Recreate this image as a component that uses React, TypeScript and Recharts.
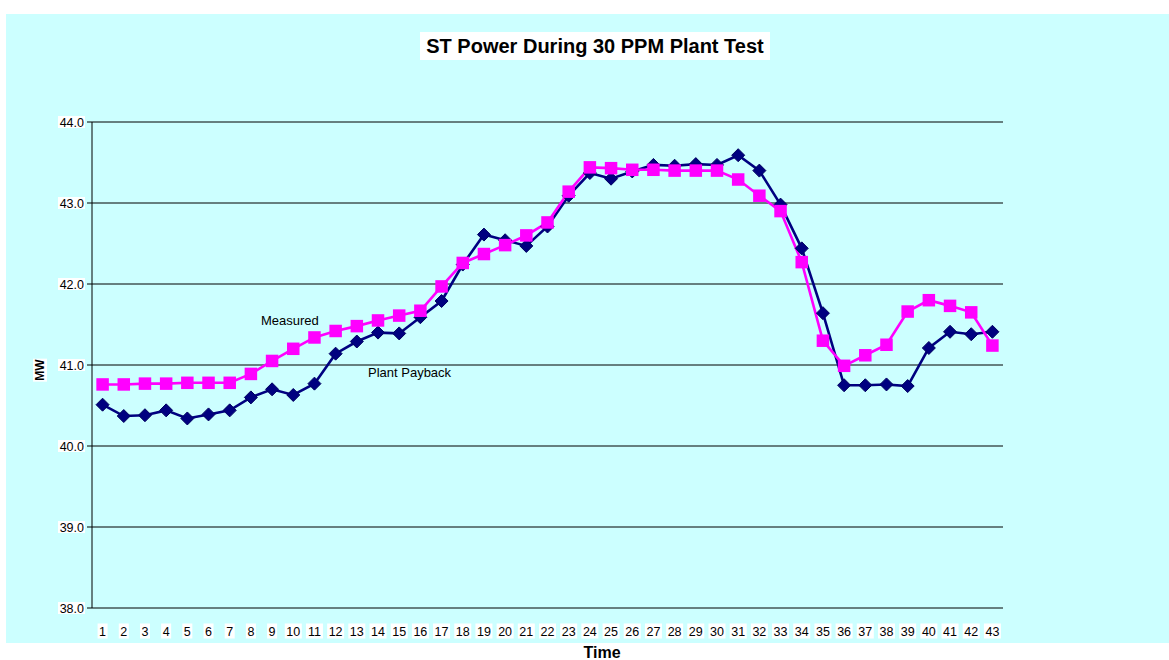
import React from 'react';
import { LineChart, Line, XAxis, YAxis, CartesianGrid } from 'recharts';

const times = [
  1, 2, 3, 4, 5, 6, 7, 8, 9, 10, 11, 12, 13, 14, 15, 16, 17, 18, 19, 20, 21, 22,
  23, 24, 25, 26, 27, 28, 29, 30, 31, 32, 33, 34, 35, 36, 37, 38, 39, 40, 41, 42, 43,
];

const measured = [
  40.76, 40.76, 40.77, 40.77, 40.78, 40.78, 40.78, 40.89, 41.05, 41.2, 41.34, 41.42,
  41.48, 41.55, 41.61, 41.67, 41.97, 42.26, 42.37, 42.48, 42.6, 42.76, 43.14, 43.44,
  43.43, 43.41, 43.41, 43.4, 43.4, 43.4, 43.29, 43.09, 42.9, 42.27, 41.3, 40.99,
  41.12, 41.25, 41.66, 41.8, 41.73, 41.65, 41.24,
];

const plantPayback = [
  40.51, 40.37, 40.38, 40.44, 40.34, 40.39, 40.44, 40.6, 40.7, 40.63, 40.77, 41.14,
  41.29, 41.4, 41.39, 41.59, 41.79, 42.24, 42.61, 42.54, 42.47, 42.71, 43.09, 43.37,
  43.3, 43.39, 43.47, 43.46, 43.48, 43.47, 43.59, 43.4, 42.98, 42.44, 41.64, 40.75,
  40.75, 40.76, 40.74, 41.21, 41.41, 41.38, 41.41,
];

const yTicks = [38, 39, 40, 41, 42, 43, 44];
// tick marks sit between categories, like Excel
const boundaryTicks = [0.5, ...times.map(t => t + 0.5)];

const data = times.map((t, i) => ({ t, measured: measured[i], payback: plantPayback[i] }));

const NAVY = '#000080';
const MAGENTA = '#FF00FF';
const FONT = 'Arial, "Liberation Sans", sans-serif';

function Diamond(props: any) {
  const { cx, cy } = props;
  if (cx == null || cy == null) return <g />;
  const r = 6.5;
  return (
    <path
      d={`M${cx},${cy - r}L${cx + r},${cy}L${cx},${cy + r}L${cx - r},${cy}Z`}
      fill={NAVY}
      stroke="#000060"
      strokeWidth={1}
    />
  );
}

function Square(props: any) {
  const { cx, cy } = props;
  if (cx == null || cy == null) return <g />;
  const s = 12.5;
  return <rect x={cx - s / 2} y={cy - s / 2} width={s} height={s} fill={MAGENTA} />;
}

function XTick(props: any) {
  const { x, y, payload } = props;
  const label = String(payload.value);
  const w = label.length * 7 + 3;
  const cy = y + 23;
  return (
    <g>
      <rect x={x - w / 2} y={cy - 7.5} width={w} height={15} fill="#fff" />
      <text x={x} y={cy} dy="0.36em" textAnchor="middle" fontSize={12.5} fontFamily={FONT} fill="#000">
        {label}
      </text>
    </g>
  );
}

function YTick(props: any) {
  const { x, y, payload } = props;
  const label = Number(payload.value).toFixed(1);
  const w = 26;
  return (
    <g>
      <rect x={x - w} y={y - 6} width={w + 1} height={12} fill="#fff" />
      <text x={x} y={y} dy="0.36em" textAnchor="end" fontSize={12.5} fontFamily={FONT} fill="#000">
        {label}
      </text>
    </g>
  );
}

export default function App() {
  return (
    <div style={{ position: 'absolute', left: 0, top: 0, width: 1169, height: 660, background: '#fff', fontFamily: FONT }}>
      <div style={{ position: 'absolute', left: 6, top: 14, width: 1163, height: 629, background: '#CCFFFF' }} />
      <div
        style={{
          position: 'absolute', left: 420, top: 32, width: 350, height: 28, background: '#fff',
          fontWeight: 'bold', fontSize: 20, lineHeight: '28px', textAlign: 'center', whiteSpace: 'nowrap', color: '#000',
        }}
      >
        ST Power During 30 PPM Plant Test
      </div>
      <div style={{ position: 'absolute', left: 0, top: 0 }}>
        <LineChart width={1169} height={660} data={data} margin={{ top: 122, right: 166, bottom: 0, left: 0 }}>
          <CartesianGrid horizontal vertical={false} stroke="#000" strokeOpacity={1} xAxisId="lab" />
          <XAxis
            xAxisId="tk"
            dataKey="t"
            type="number"
            domain={[0.5, 43.5]}
            ticks={boundaryTicks}
            allowDataOverflow
            height={0}
            tickSize={5}
            tickLine={{ stroke: '#000' }}
            axisLine={{ stroke: '#000' }}
            tick={() => <g />}
          />
          <XAxis
            xAxisId="lab"
            dataKey="t"
            type="number"
            domain={[0.5, 43.5]}
            ticks={times}
            allowDataOverflow
            interval={0}
            height={52}
            tickSize={0}
            tickMargin={0}
            tickLine={false}
            axisLine={false}
            tick={<XTick />}
          />
          <YAxis
            domain={[38, 44]}
            ticks={yTicks}
            width={92}
            tickSize={5}
            tickMargin={3}
            tickLine={{ stroke: '#000' }}
            axisLine={{ stroke: '#000' }}
            tick={<YTick />}
            allowDataOverflow
          />
          <Line
            xAxisId="lab"
            dataKey="payback"
            stroke={NAVY}
            strokeWidth={2.6}
            dot={<Diamond />}
            activeDot={false}
            isAnimationActive={false}
          />
          <Line
            xAxisId="lab"
            dataKey="measured"
            stroke={MAGENTA}
            strokeWidth={2.6}
            dot={<Square />}
            activeDot={false}
            isAnimationActive={false}
          />
        </LineChart>
      </div>
      <div style={{ position: 'absolute', left: 261, top: 313, fontSize: 13, color: '#000', whiteSpace: 'nowrap' }}>Measured</div>
      <div style={{ position: 'absolute', left: 368, top: 365, fontSize: 13, color: '#000', whiteSpace: 'nowrap' }}>Plant Payback</div>
      <div
        style={{
          position: 'absolute', left: 40, top: 370, transform: 'translate(-50%, -50%) rotate(-90deg)',
          fontSize: 12, fontWeight: 'bold', background: '#fff', padding: '0 1px', color: '#000',
        }}
      >
        MW
      </div>
      <div style={{ position: 'absolute', left: 602, top: 653, transform: 'translate(-50%, -50%)', fontSize: 16, fontWeight: 'bold', color: '#000' }}>
        Time
      </div>
    </div>
  );
}
